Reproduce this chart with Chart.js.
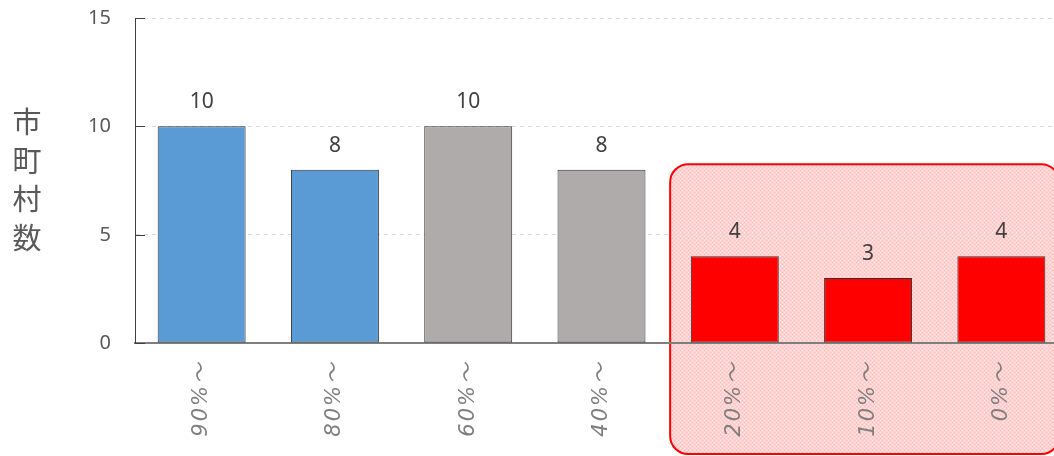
<!DOCTYPE html>
<html>
<head>
<meta charset="utf-8">
<script src="https://cdn.jsdelivr.net/npm/chart.js@4"></script>
<style>
  @font-face {
    font-family: 'TildeCJK';
    src: local('Noto Sans CJK JP Regular'), local('NotoSansCJKjp-Regular'), local('Noto Sans CJK JP');
    unicode-range: U+FF5E;
  }
  html, body { margin: 0; padding: 0; background: #fff; overflow: hidden; }
  #wrap { width: 1054px; height: 456px; overflow: hidden; position: relative; }
  #chart { display: block; }
</style>
</head>
<body>
<div id="wrap"><canvas id="chart" width="1070" height="456"></canvas></div>
<script>
// ── 市町村数 by ratio band ──
const categories = ['90%～', '80%～', '60%～', '40%～', '20%～', '10%～', '0%～'];
const counts     = [10, 8, 10, 8, 4, 3, 4];
const barColors  = ['#5B9BD5', '#5B9BD5', '#AFABAB', '#AFABAB', '#FF0000', '#FF0000', '#FF0000'];
const yTicks     = [0, 5, 10, 15];
const yTitle     = ['市', '町', '村', '数'];
const highlightFrom = 4;   // first highlighted category index

function _pinkPattern(ctx) {
  const c = document.createElement('canvas');
  c.width = 4; c.height = 4;
  const p = c.getContext('2d');
  p.fillStyle = '#FFD2D2';
  p.fillRect(0, 0, 4, 4);
  p.fillStyle = '#FFEDED';
  p.fillRect(0, 0, 1, 1); p.fillRect(2, 2, 1, 1);
  p.fillStyle = '#FFBDBD';
  p.fillRect(2, 0, 1, 1); p.fillRect(0, 2, 1, 1);
  return ctx.createPattern(c, 'repeat');
}

const highlightBox = {
  id: 'highlightBox',
  beforeDraw(chart) {
    const { ctx, scales: { x, y } } = chart;
    const left = x.getPixelForValue(highlightFrom - 0.5) + 2;
    const right = x.getPixelForValue(categories.length - 1) + 58;
    const top = y.getPixelForValue(8.25);
    const bottom = chart.height - 2;
    ctx.save();
    ctx.beginPath();
    ctx.roundRect(left, top, right - left, bottom - top, 18);
    ctx.fillStyle = _pinkPattern(ctx);
    ctx.fill();
    ctx.lineWidth = 2;
    ctx.strokeStyle = '#FF0000';
    ctx.stroke();
    ctx.restore();
    // spaced-out category labels (only text chart.js draws itself now)
    ctx.letterSpacing = '2px';
  },
};

const extras = {
  id: 'extras',
  afterDraw(chart) {
    const { ctx, scales: { y }, chartArea } = chart;
    ctx.letterSpacing = '0px';
    ctx.save();
    // inside tick marks + value-axis labels
    ctx.strokeStyle = '#404040';
    ctx.lineWidth = 1;
    ctx.fillStyle = '#595959';
    ctx.font = "20px 'Noto Sans', sans-serif";
    ctx.textAlign = 'right';
    ctx.textBaseline = 'middle';
    yTicks.forEach(v => {
      const py = Math.round(y.getPixelForValue(v)) + 0.5;
      ctx.beginPath();
      ctx.moveTo(chartArea.left, py);
      ctx.lineTo(chartArea.left + 10, py);
      ctx.stroke();
      ctx.fillText(String(v), chartArea.left - 24, py);
    });
    // value labels
    const meta = chart.getDatasetMeta(0);
    ctx.fillStyle = '#404040';
    ctx.font = "21px 'Noto Sans', sans-serif";
    ctx.textAlign = 'center';
    meta.data.forEach((bar, i) => {
      ctx.fillText(String(counts[i]), bar.x, bar.y - 24);
    });
    // stacked vertical axis title
    ctx.fillStyle = '#595959';
    ctx.font = "29px 'Noto Sans CJK JP', sans-serif";
    yTitle.forEach((ch, i) => {
      ctx.fillText(ch, 27, 122 + i * 38.5);
    });
    ctx.restore();
  },
};

function build() {
  new Chart(document.getElementById('chart').getContext('2d'), {
    type: 'bar',
    data: {
      labels: categories,
      datasets: [{
        data: counts,
        backgroundColor: barColors,
        borderColor: '#333333',
        borderWidth: 1,
        borderSkipped: false,
        barPercentage: 0.66,
        categoryPercentage: 1,
      }],
    },
    options: {
      responsive: false,
      animation: false,
      layout: { padding: { top: 18, right: 2, left: 0, bottom: 0 } },
      plugins: { legend: { display: false }, tooltip: { enabled: false } },
      scales: {
        x: {
          grid: { display: false },
          border: { color: '#7F7F7F', width: 2 },
          ticks: {
            minRotation: 90, maxRotation: 90, padding: 10,
            color: '#7F7F7F',
            font: { family: "'TildeCJK', 'DejaVu Sans', sans-serif", size: 21, style: 'italic' },
          },
          afterFit: s => { s.height = 113; s.paddingLeft = 0; s.paddingRight = 0; },
        },
        y: {
          min: 0, max: 15,
          afterBuildTicks: s => { s.ticks = yTicks.map(v => ({ value: v })); },
          grid: { color: '#D9D9D9', drawTicks: false },
          border: { color: '#404040', width: 1, dash: [4, 4] },
          ticks: { display: false },
          afterFit: s => { s.width = 135; s.paddingTop = 0; s.paddingBottom = 0; },
        },
      },
    },
    plugins: [highlightBox, extras],
  });
}

Promise.all([
  document.fonts.load("italic 21px 'TildeCJK'", '～'),
  document.fonts.load("20px 'Noto Sans'"),
]).catch(() => {}).then(build);
</script>
</body>
</html>
